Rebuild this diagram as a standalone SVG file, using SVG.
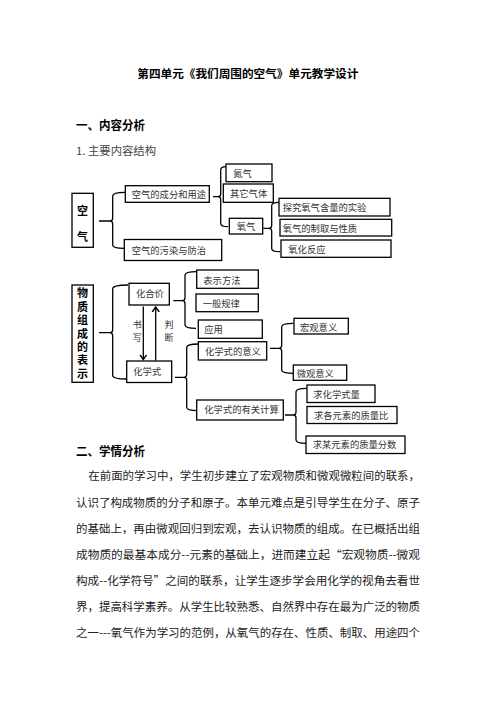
<svg xmlns="http://www.w3.org/2000/svg" width="496" height="702" viewBox="0 0 496 702">
<style>
text{font-family:"Noto Sans CJK SC","Noto Sans",sans-serif;fill:#222}
.h{font-weight:bold;font-size:12px;fill:#000}
.t{font-weight:bold;font-size:11.5px;fill:#000}
.p{font-size:11.5px;fill:#222}
.b{font-size:9.3px;fill:#333;dominant-baseline:central}
.v{font-weight:bold;font-size:11px;fill:#000;dominant-baseline:central;text-anchor:middle}
.vv{font-weight:bold;font-size:11px;fill:#000;writing-mode:vertical-rl;letter-spacing:2.35px}
.s{font-size:9px;fill:#333;dominant-baseline:central;text-anchor:middle}
rect{fill:#fff;stroke:#000;stroke-width:1.3}
.c path,.c line{fill:none;stroke:#000;stroke-width:1.3}
</style>
<defs>
<marker id="ah" markerUnits="userSpaceOnUse" markerWidth="10" markerHeight="10" refX="5" refY="5" orient="auto">
<path d="M0,1.5 L5,5 L0,8.5" fill="none" stroke="#000" stroke-width="1.4"/>
</marker>
</defs>
<rect x="0" y="0" width="496" height="702" style="stroke:none;fill:#fff"/>
<text class="t" x="137.3" y="77.5" textLength="221" lengthAdjust="spacingAndGlyphs">第四单元《我们周围的空气》单元教学设计</text>
<text class="h" x="76" y="129.5" textLength="69" lengthAdjust="spacingAndGlyphs">一、内容分析</text>
<text x="76" y="155" style="font-size:11px;fill:#444" textLength="80" lengthAdjust="spacingAndGlyphs">1. 主要内容结构</text>

<g class="c" id="connectors">
<path d="M99,221 L110,221 M125,192.3 Q112.7,192.3 112.7,196 L112.7,218 Q112.7,221 110,221 Q112.7,221 112.7,224 L112.7,245 Q112.7,248.3 124,248.3"/>
<path d="M213,196.7 L218,196.7 M226,166.7 Q220.7,166.7 220.7,170 L220.7,194 Q220.7,196.7 218,196.7 Q220.7,196.7 220.7,199.5 L220.7,223.5 Q220.7,226.7 228,226.7"/>
<path d="M263.3,228.3 L269,228.3 M279,202.3 Q271.7,202.3 271.7,205.5 L271.7,225.5 Q271.7,228.3 269,228.3 Q271.7,228.3 271.7,231 L271.7,248.5 Q271.7,251.7 280,251.7"/>
<path d="M99,332.7 L110,332.7 M128,285 Q112.7,285 112.7,289 L112.7,329.5 Q112.7,332.7 110,332.7 Q112.7,332.7 112.7,336 L112.7,375.5 Q112.7,379 126.7,379"/>
<path d="M173.3,300.7 L182.3,300.7 M196.7,271.7 Q185,271.7 185,275 L185,297.7 Q185,300.7 182.3,300.7 Q185,300.7 185,303.7 L185,325 Q185,328.3 196,328.3"/>
<path d="M175,377.3 L184,377.3 M198.3,344 Q186.7,344 186.7,347.5 L186.7,374.3 Q186.7,377.3 184,377.3 Q186.7,377.3 186.7,380.3 L186.7,407.3 Q186.7,410.7 197.3,410.7"/>
<path d="M270,348.3 L279,348.3 M293.3,323.3 Q281.7,323.3 281.7,326.7 L281.7,345.3 Q281.7,348.3 279,348.3 Q281.7,348.3 281.7,351.3 L281.7,370 Q281.7,373.3 294,373.3"/>
<path d="M285,415 L293.3,415 M306.7,388.3 Q296,388.3 296,391.7 L296,412 Q296,415 293.3,415 Q296,415 296,418 L296,440 Q296,443.3 306.7,443.3"/>
<line x1="143.3" y1="306.5" x2="143.3" y2="359.5" marker-end="url(#ah)"/>
<line x1="155.7" y1="360.5" x2="155.7" y2="307" marker-end="url(#ah)"/>
</g>

<g id="n-kongqi"><rect x="72" y="193.3" width="21.3" height="54"/><text class="v" x="82.6" y="210">空</text><text class="v" x="82.6" y="236">气</text></g>
<g id="n-chengfen"><rect x="125.3" y="185.7" width="84" height="16.6"/><text class="b" x="131.7" y="194">空气的成分和用途</text></g>
<g id="n-wuran"><rect x="124.3" y="239.5" width="97.4" height="21"/><text class="b" x="131.7" y="249.5">空气的污染与防治</text></g>
<g id="n-danqi"><rect x="226" y="164" width="46" height="17.7"/><text class="b" x="233.3" y="172.7">氮气</text></g>
<g id="n-qita"><rect x="223.3" y="184" width="50" height="18.3"/><text class="b" x="230" y="193">其它气体</text></g>
<g id="n-yangqi"><rect x="229.3" y="218.3" width="33.4" height="15.7"/><text class="b" x="236.7" y="226">氧气</text></g>
<g id="n-tanjiu"><rect x="279" y="198.3" width="111" height="17.7"/><text class="b" x="282.7" y="207">探究氧气含量的实验</text></g>
<g id="n-zhiqu"><rect x="280" y="219.3" width="111.7" height="16.7"/><text class="b" x="282.7" y="228">氧气的制取与性质</text></g>
<g id="n-yanghua"><rect x="281" y="240" width="110" height="17.3"/><text class="b" x="288.3" y="249">氧化反应</text></g>

<g id="n-wuzhi"><rect x="72" y="285" width="21.3" height="97.3"/>
<text class="vv" x="82.6" y="287.8">物质组成的表示</text></g>
<g id="n-huahejia"><rect x="129" y="283.3" width="40.3" height="21.7"/><text class="b" x="136" y="292.7">化合价</text></g>
<g id="n-huaxueshi"><rect x="126.7" y="361" width="45" height="21.5"/><text class="b" x="133.3" y="370.7">化学式</text></g>
<g id="n-shuxie"><text class="s" x="137.3" y="324">书</text><text class="s" x="137.3" y="337.3">写</text></g>
<g id="n-panduan"><text class="s" x="169" y="324">判</text><text class="s" x="169" y="337.3">断</text></g>
<g id="n-biaoshi"><rect x="196.7" y="270" width="61.6" height="18.3"/><text class="b" x="203.3" y="280">表示方法</text></g>
<g id="n-guilv"><rect x="196" y="294" width="62.3" height="17.7"/><text class="b" x="202.7" y="302.7">一般规律</text></g>
<g id="n-yingyong"><rect x="198.3" y="320" width="64" height="18.3"/><text class="b" x="204.3" y="329">应用</text></g>
<g id="n-yiyi"><rect x="198.3" y="341.7" width="68.4" height="18.3"/><text class="b" x="205" y="350.7">化学式的意义</text></g>
<g id="n-jisuan"><rect x="196.7" y="400" width="86.6" height="20"/><text class="b" x="204.3" y="409">化学式的有关计算</text></g>
<g id="n-hongguan"><rect x="294" y="318.3" width="54.3" height="15.7"/><text class="b" x="300" y="326.5">宏观意义</text></g>
<g id="n-weiguan"><rect x="293.3" y="365" width="53.4" height="15.3"/><text class="b" x="296.7" y="373">微观意义</text></g>
<g id="n-shiliang"><rect x="307" y="385" width="68" height="17.5"/><text class="b" x="313.3" y="393.5">求化学式量</text></g>
<g id="n-zhiliangbi"><rect x="307" y="406.5" width="90" height="17"/><text class="b" x="314" y="415.3">求各元素的质量比</text></g>
<g id="n-fenshu"><rect x="306" y="436" width="99" height="17.5"/><text class="b" x="312.7" y="444">求某元素的质量分数</text></g>

<text class="h" x="76" y="456" textLength="69" lengthAdjust="spacingAndGlyphs">二、学情分析</text>
<text class="p" x="88.3" y="480" textLength="331.7" lengthAdjust="spacingAndGlyphs">在前面的学习中，学生初步建立了宏观物质和微观微粒间的联系，</text>
<text class="p" x="76" y="506.7" textLength="344" lengthAdjust="spacingAndGlyphs">认识了构成物质的分子和原子。本单元难点是引导学生在分子、原子</text>
<text class="p" x="76" y="533.3" textLength="344" lengthAdjust="spacingAndGlyphs">的基础上，再由微观回归到宏观，去认识物质的组成。在已概括出组</text>
<text class="p" x="76" y="559" textLength="344" lengthAdjust="spacingAndGlyphs">成物质的最基本成分--元素的基础上，进而建立起“宏观物质--微观</text>
<text class="p" x="76" y="584.7" textLength="344" lengthAdjust="spacingAndGlyphs">构成--化学符号”之间的联系，让学生逐步学会用化学的视角去看世</text>
<text class="p" x="76" y="610.7" textLength="344" lengthAdjust="spacingAndGlyphs">界，提高科学素养。从学生比较熟悉、自然界中存在最为广泛的物质</text>
<text class="p" x="76" y="636.7" textLength="344" lengthAdjust="spacingAndGlyphs">之一---氧气作为学习的范例，从氧气的存在、性质、制取、用途四个</text>
</svg>
